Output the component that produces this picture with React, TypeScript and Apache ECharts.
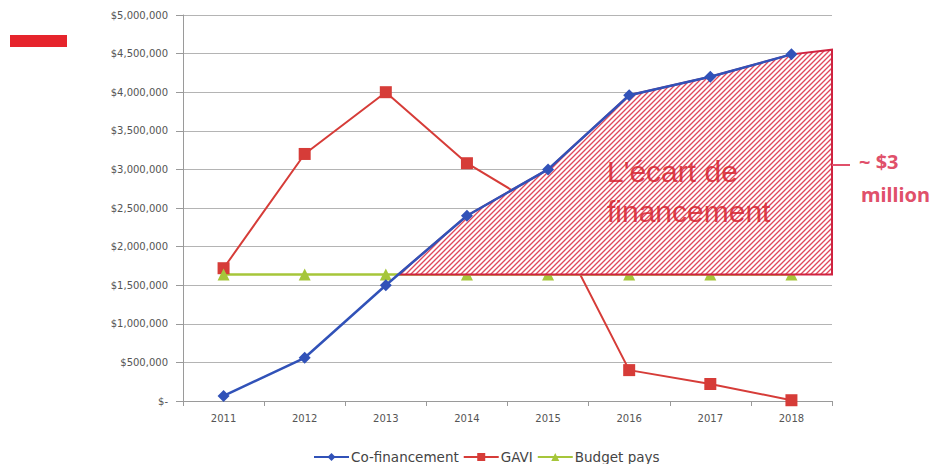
import React, { useEffect, useRef } from "react";
import * as echarts from "echarts";

const years = ["2011", "2012", "2013", "2014", "2015", "2016", "2017", "2018"];
const coFinancement = [65000, 560000, 1500000, 2400000, 3000000, 3960000, 4200000, 4490000];
const gavi = [1720000, 3200000, 4000000, 3080000, 2450000, 400000, 220000, 10000];
const budgetPays = [1640000, 1640000, 1640000, 1640000, 1640000, 1640000, 1640000, 1640000];
const gapEndValue = 4550000;
const yMax = 5000000;
const yInterval = 500000;

const BLUE = "#3152b8";
const RED = "#d63c38";
const GREEN = "#a6c63a";
const HATCH = "#e0485c";
const FONT = "DejaVu Sans";

function makeHatch() {
  const s = 5;
  const c = document.createElement("canvas");
  c.width = s;
  c.height = s;
  const ctx = c.getContext("2d")!;
  ctx.fillStyle = "#ffffff";
  ctx.fillRect(0, 0, s, s);
  ctx.strokeStyle = HATCH;
  ctx.lineWidth = 1.35;
  ctx.beginPath();
  ctx.moveTo(-1, 1);
  ctx.lineTo(1, -1);
  ctx.moveTo(0, s);
  ctx.lineTo(s, 0);
  ctx.moveTo(s - 1, s + 1);
  ctx.lineTo(s + 1, s - 1);
  ctx.stroke();
  return c;
}

function fmt(v: number) {
  if (v === 0) return "$-";
  return "$" + v.toLocaleString("en-US");
}

export default function App() {
  const ref = useRef<HTMLDivElement>(null);
  useEffect(() => {
    if (!ref.current) return;
    const chart = echarts.init(ref.current, null, { renderer: "svg" });
    const hatch = makeHatch();
    const option: any = {
      animation: false,
      backgroundColor: "#ffffff",
      grid: { left: 183, top: 15, width: 649, height: 386, containLabel: false },
      xAxis: {
        type: "category",
        data: years,
        boundaryGap: true,
        axisLine: { lineStyle: { color: "#9a9a9a", width: 1 } },
        axisTick: { show: true, length: 5, lineStyle: { color: "#9a9a9a" } },
        axisLabel: { color: "#555", fontFamily: FONT, fontSize: 10, margin: 12 },
      },
      yAxis: {
        type: "value",
        min: 0,
        max: yMax,
        interval: yInterval,
        axisLine: { show: true, lineStyle: { color: "#9a9a9a", width: 1 } },
        axisTick: { show: true, length: 7, lineStyle: { color: "#9a9a9a" } },
        splitLine: { lineStyle: { color: "#b4b4b4", width: 1 } },
        axisLabel: { color: "#555", fontFamily: FONT, fontSize: 10, margin: 15, formatter: fmt },
      },
      legend: {
        data: ["Co-financement", "GAVI", "Budget pays"],
        left: 308,
        top: 445,
        itemWidth: 35,
        itemHeight: 10,
        itemGap: 4,
        textStyle: { color: "#444", fontFamily: FONT, fontSize: 13.5, padding: [0, 0, 0, -3] },
      },
      series: [
        {
          name: "GAVI",
          type: "line",
          data: gavi,
          z: 2,
          symbol: "rect",
          symbolSize: 12,
          lineStyle: { color: RED, width: 2 },
          itemStyle: { color: RED },
        },
        {
          name: "Budget pays",
          type: "line",
          data: budgetPays,
          z: 2,
          symbol: "triangle",
          symbolSize: 12,
          lineStyle: { color: GREEN, width: 2.5 },
          itemStyle: { color: GREEN },
        },
        {
          name: "gap",
          type: "custom",
          z: 3,
          silent: true,
          clip: false,
          data: [0],
          renderItem: (params: any, api: any) => {
            const cs = params.coordSys;
            const base = budgetPays[0];
            const n = coFinancement.length;
            const pts: number[][] = [];
            let start = 0;
            for (let i = 0; i < n - 1; i++) {
              if (coFinancement[i] < base && coFinancement[i + 1] >= base) {
                const t = (base - coFinancement[i]) / (coFinancement[i + 1] - coFinancement[i]);
                const p0 = api.coord([i, coFinancement[i]]);
                const p1 = api.coord([i + 1, coFinancement[i + 1]]);
                pts.push([p0[0] + t * (p1[0] - p0[0]), p0[1] + t * (p1[1] - p0[1])]);
                start = i + 1;
                break;
              }
            }
            for (let j = start; j < n; j++) pts.push(api.coord([j, coFinancement[j]]));
            const right = cs.x + cs.width;
            pts.push([right, api.coord([n - 1, gapEndValue])[1]]);
            pts.push([right, api.coord([n - 1, base])[1]]);
            return {
              type: "polygon",
              shape: { points: pts },
              style: { fill: { image: hatch, repeat: "repeat" }, stroke: "#cf2340", lineWidth: 2 },
            };
          },
        },
        {
          name: "Co-financement",
          type: "line",
          data: coFinancement,
          z: 4,
          symbol: "diamond",
          symbolSize: 12,
          lineStyle: { color: BLUE, width: 2.5 },
          itemStyle: { color: BLUE },
        },
      ],
      graphic: [
        { type: "rect", left: 10, top: 35, shape: { width: 57, height: 12 }, style: { fill: "#e6242c" }, z: 10 },
        {
          type: "text",
          left: 607,
          top: 156,
          z: 10,
          style: { text: "L'écart de", fill: "rgba(214,36,48,0.85)", font: "30px 'Liberation Sans'" },
        },
        {
          type: "text",
          left: 607,
          top: 196,
          z: 10,
          style: { text: "financement", fill: "rgba(214,36,48,0.85)", font: "30px 'Liberation Sans'" },
        },
        {
          type: "line",
          shape: { x1: 832, y1: 165, x2: 850, y2: 165 },
          style: { stroke: "#e0506a", lineWidth: 2 },
          z: 10,
        },
        {
          type: "text",
          left: 859,
          top: 151,
          z: 10,
          style: { text: "~ $3", fill: "#e0506a", font: "bold 20px 'Noto Sans'" },
        },
        {
          type: "text",
          left: 861,
          top: 184,
          z: 10,
          style: { text: "million", fill: "#e0506a", font: "bold 20px 'Noto Sans'" },
        },
      ],
    };
    chart.setOption(option);
    return () => chart.dispose();
  }, []);
  return <div ref={ref} style={{ width: 937, height: 464, position: "absolute", left: 0, top: 0 }} />;
}
